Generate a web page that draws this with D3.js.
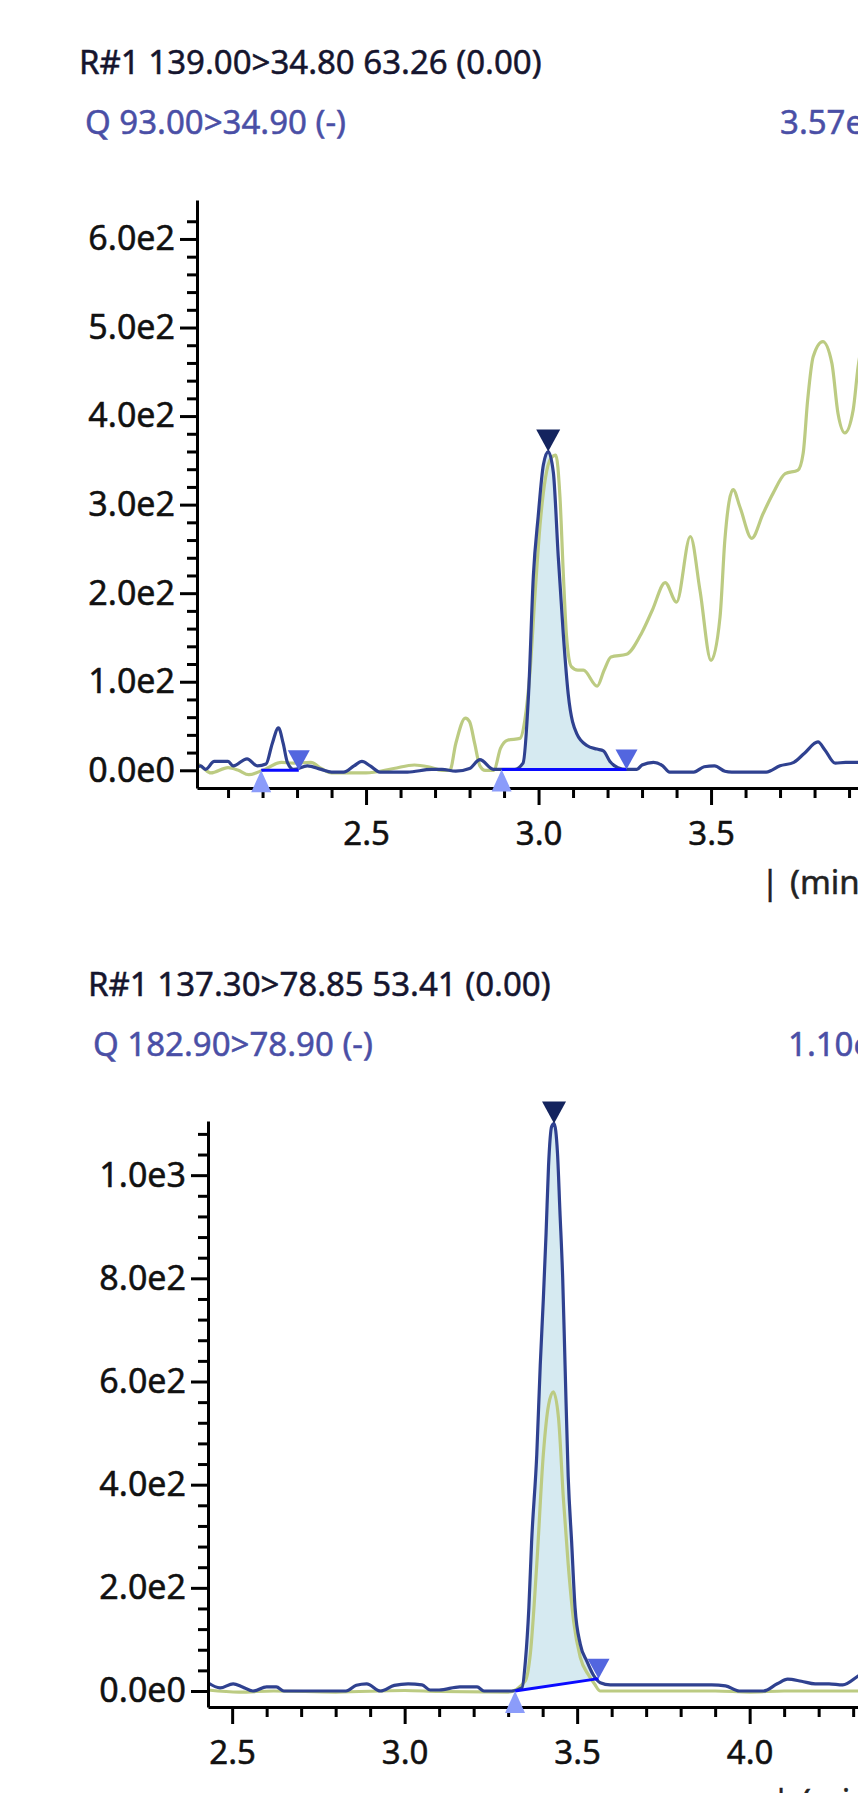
<!DOCTYPE html>
<html>
<head>
<meta charset="utf-8">
<script src="https://cdn.jsdelivr.net/npm/d3@7"></script>
<style>
html,body{margin:0;padding:0;background:#ffffff;overflow:hidden}
svg{display:block}
</style>
</head>
<body>
<svg id="chart" width="858" height="1793"></svg>
<script>
// ---------------- DATA ----------------
// Panel 1 header texts
const topTitle = "R#1 139.00>34.80 63.26 (0.00)";
const topSubtitle = "Q 93.00>34.90 (-)";
const topIntensity = "3.57e2";
// Panel 2 header texts
const botTitle = "R#1 137.30>78.85 53.41 (0.00)";
const botSubtitle = "Q 182.90>78.90 (-)";
const botIntensity = "1.10e3";
const axisUnit = "(min)";

// tick values
const topXTicks = [2.5, 3.0, 3.5];
const topYTicks = [0, 100, 200, 300, 400, 500, 600];
const botXTicks = [2.5, 3.0, 3.5, 4.0];
const botYTicks = [0, 200, 400, 600, 800, 1000];

// Panel 1 quantifier trace [time (min), intensity]
const topQuant = [[2.01,3],[2.02,5],[2.035,1],[2.06,10],[2.10,10],[2.115,5],[2.155,13],[2.185,5],[2.21,7],[2.228,30],[2.246,48],[2.26,30],[2.272,9],[2.29,1],[2.33,5],[2.37,1],[2.40,-2],[2.435,-2],[2.465,5],[2.488,10],[2.512,5],[2.54,-2],[2.62,-2],[2.69,1],[2.72,1],[2.76,-1],[2.80,2],[2.83,12],[2.87,1],[2.893,1],[2.93,1],[2.955,8],[2.971,86],[2.985,220],[2.999,287],[3.014,345],[3.028,360],[3.043,336],[3.057,242],[3.072,152],[3.086,86],[3.111,41],[3.14,28],[3.169,24],[3.188,22],[3.207,10],[3.23,3],[3.255,1],[3.285,1],[3.30,6],[3.333,9],[3.36,5],[3.38,-2],[3.45,-2],[3.48,4],[3.51,5],[3.54,-1],[3.56,-2],[3.66,-2],[3.70,5],[3.74,9],[3.77,19],[3.81,32],[3.83,23],[3.86,8],[3.89,9],[3.95,9]];
// Panel 1 qualifier trace
const topQual = [[2.01,8],[2.03,2],[2.05,-3],[2.10,3],[2.13,0],[2.16,-5],[2.20,0],[2.255,9],[2.29,8],[2.34,9],[2.37,2],[2.40,-3],[2.50,-3],[2.58,2],[2.64,6],[2.68,4],[2.72,0],[2.743,0],[2.76,30],[2.788,59],[2.80,55],[2.815,30],[2.83,5],[2.845,0],[2.87,0],[2.89,25],[2.91,34],[2.946,36],[2.96,56],[2.975,110],[2.99,200],[3.005,280],[3.02,330],[3.035,352],[3.05,356],[3.062,309],[3.072,220],[3.081,152],[3.095,117],[3.114,113],[3.13,113],[3.17,95],[3.19,113],[3.21,128],[3.255,131],[3.30,156],[3.33,181],[3.367,212],[3.40,190],[3.44,264],[3.468,203],[3.50,124],[3.526,173],[3.54,260],[3.564,317],[3.584,297],[3.618,262],[3.651,290],[3.68,313],[3.715,335],[3.752,339],[3.767,358],[3.78,418],[3.796,467],[3.824,484],[3.85,460],[3.868,403],[3.888,381],[3.912,407],[3.926,455],[3.95,500]];
// Panel 1 peak integration marks
const topPeakStart = [[2.196,0],[2.893,1]];
const topPeakEnd = [[2.305,0],[3.255,1]];
const topPeakApex = [null,[3.028,360]];

// Panel 2 quantifier trace
const botQuant = [[2.43,16],[2.465,6],[2.503,14],[2.53,8],[2.56,0],[2.60,8],[2.628,8],[2.65,0],[2.70,0],[2.83,0],[2.86,11],[2.89,14],[2.93,0],[2.97,11],[3.01,14],[3.05,12],[3.074,2],[3.10,2],[3.16,8],[3.21,8],[3.23,0],[3.31,0],[3.34,6],[3.35,58],[3.36,161],[3.368,289],[3.383,459],[3.393,631],[3.402,760],[3.410,888],[3.417,1017],[3.426,1094],[3.433,1100],[3.443,1043],[3.45,931],[3.458,802],[3.465,631],[3.474,416],[3.484,289],[3.494,161],[3.509,91],[3.528,58],[3.547,31],[3.567,16],[3.596,12],[3.654,12],[3.75,12],[3.89,12],[3.93,10],[3.97,0],[4.04,0],[4.08,14],[4.11,23],[4.15,19],[4.19,14],[4.23,14],[4.27,12],[4.32,31],[4.36,40]];
// Panel 2 qualifier trace
const botQual = [[2.43,2],[2.52,-2],[2.62,0],[2.80,-2],[3.00,1],[3.10,-1],[3.30,-2],[3.35,20],[3.364,70],[3.383,246],[3.402,459],[3.417,554],[3.431,580],[3.446,529],[3.46,374],[3.474,246],[3.49,134],[3.509,65],[3.533,31],[3.55,14],[3.567,0],[3.70,0],[3.90,0],[4.00,-2],[4.10,0],[4.36,0]];
// Panel 2 peak integration marks
const botPeakStart = [[3.32,0]];
const botPeakEnd = [[3.562,24]];
const botPeakApex = [[3.433,1100]];

// ---------------- DRAWING ----------------
const FONT = "'Noto Sans','Open Sans',sans-serif";
const svg = d3.select("#chart");

function interp(series, t) {
  for (let i = 0; i < series.length - 1; i++) {
    const a = series[i], b = series[i + 1];
    if (t >= a[0] && t <= b[0]) {
      const f = (t - a[0]) / (b[0] - a[0]);
      return a[1] + f * (b[1] - a[1]);
    }
  }
  return series[series.length - 1][1];
}

function yFmt(v) {
  return d3.format(".1e")(v).replace("e+", "e");
}

function addText(g, xPos, yPos, txt, color) {
  return g.append("text").attr("x", xPos).attr("y", yPos)
    .attr("font-family", FONT).attr("font-size", 33).attr("fill", color)
    .attr("stroke", color).attr("stroke-width", 0.5)
    .text(txt);
}

function drawPanel(cfg) {
  const g = svg.append("g");
  const x = d3.scaleLinear().domain(cfg.xDomain).range(cfg.xRange);
  const y = d3.scaleLinear().domain(cfg.yDomain).range(cfg.yRange);

  // header text
  addText(g, cfg.titleX, cfg.titleY, cfg.title, "#15152e");
  addText(g, cfg.subX, cfg.subY, cfg.subtitle, "#4a4fa6");
  addText(g, cfg.intX, cfg.subY, cfg.intensity, "#4a4fa6");

  // peak fills
  cfg.starts.forEach((s, i) => {
    const e = cfg.ends[i];
    if (!cfg.apexes[i]) return;
    const base = t => s[1] + (t - s[0]) / (e[0] - s[0]) * (e[1] - s[1]);
    const pts = [[s[0], interp(cfg.quant, s[0])]]
      .concat(cfg.quant.filter(d => d[0] > s[0] && d[0] < e[0]))
      .concat([[e[0], interp(cfg.quant, e[0])]]);
    const area = d3.area().curve(d3.curveMonotoneX)
      .x(d => x(d[0])).y0(d => y(base(d[0]))).y1(d => y(Math.max(d[1], base(d[0]))));
    g.append("path").datum(pts).attr("d", area).attr("fill", "#d6eaf1");
  });

  const line = d3.line().curve(d3.curveMonotoneX).x(d => x(d[0])).y(d => y(d[1]));
  g.append("path").datum(cfg.qual).attr("d", line)
    .attr("fill", "none").attr("stroke", "#bccb82").attr("stroke-width", 3.2).attr("stroke-linejoin", "round");
  g.append("path").datum(cfg.quant).attr("d", line)
    .attr("fill", "none").attr("stroke", "#2f4190").attr("stroke-width", 3.2).attr("stroke-linejoin", "round");

  // baselines
  cfg.starts.forEach((s, i) => {
    const e = cfg.ends[i];
    g.append("line").attr("x1", x(s[0])).attr("y1", y(s[1])).attr("x2", x(e[0])).attr("y2", y(e[1]))
      .attr("stroke", "#0a0aff").attr("stroke-width", 3);
  });

  // axes
  const xAxisY = cfg.yRange[0];
  const yAxisX = cfg.xRange[0];
  const styleAxis = (sel, fs) => {
    sel.selectAll("path.domain").attr("stroke", "#000").attr("stroke-width", 3);
    sel.selectAll(".tick line").attr("stroke", "#000").attr("stroke-width", 3);
    sel.selectAll(".tick text").attr("font-family", FONT).attr("font-size", fs).attr("fill", "#111")
      .attr("stroke", "#111").attr("stroke-width", 0.5);
  };
  const xMinor = d3.range(Math.ceil(cfg.xDomain[0] * 10), Math.floor(cfg.xDomain[1] * 10) + 1)
    .map(d => d / 10).filter(d => Math.abs(d * 2 - Math.round(d * 2)) > 1e-6);
  g.append("g").attr("transform", `translate(0,${xAxisY})`)
    .call(d3.axisBottom(x).tickValues(xMinor).tickSize(10).tickFormat(""))
    .call(sel => sel.select(".domain").remove()).call(sel => styleAxis(sel, 33));
  g.append("g").attr("transform", `translate(0,${xAxisY})`)
    .call(d3.axisBottom(x).tickValues(cfg.xTicks).tickSize(17).tickSizeOuter(0).tickPadding(17).tickFormat(d3.format(".1f")))
    .call(sel => styleAxis(sel, 33));

  const yMinor = d3.range(cfg.yMinorStep, cfg.yMinorMax + 1, cfg.yMinorStep)
    .filter(d => cfg.yTicks.indexOf(d) < 0);
  g.append("g").attr("transform", `translate(${yAxisX},0)`)
    .call(d3.axisLeft(y).tickValues(yMinor).tickSize(10).tickFormat(""))
    .call(sel => sel.select(".domain").remove()).call(sel => styleAxis(sel, 34));
  g.append("g").attr("transform", `translate(${yAxisX},0)`)
    .call(d3.axisLeft(y).tickValues(cfg.yTicks).tickSize(17).tickSizeOuter(0).tickPadding(5).tickFormat(yFmt))
    .call(sel => styleAxis(sel, 34));

  // markers
  cfg.starts.forEach(s => {
    const px = x(s[0]), py = y(s[1]);
    g.append("path").attr("d", `M${px},${py} L${px - 10},${py + 22} L${px + 10},${py + 22} Z`)
      .attr("fill", "#8b9cfa");
  });
  cfg.ends.forEach(e => {
    const px = x(e[0]), py = y(e[1]);
    g.append("path").attr("d", `M${px},${py} L${px - 11},${py - 20} L${px + 11},${py - 20} Z`)
      .attr("fill", "#5366df");
  });
  cfg.apexes.forEach(a => {
    if (!a) return;
    const px = x(a[0]), py = y(a[1]);
    g.append("path").attr("d", `M${px},${py} L${px - 12},${py - 22} L${px + 12},${py - 22} Z`)
      .attr("fill", "#14245e");
  });

  // unit label
  addText(g, cfg.unitX, xAxisY + 106, "|", "#222");
  addText(g, cfg.unitX + 29, xAxisY + 106, axisUnit, "#222");
}

drawPanel({
  title: topTitle, subtitle: topSubtitle, intensity: topIntensity,
  titleX: 79, titleY: 74, subX: 85, subY: 134, intX: 780,
  xDomain: [2.01, 4.0], xRange: [197, 883.55],
  yDomain: [-20, 644], yRange: [788, 200],
  xTicks: topXTicks, yTicks: topYTicks, yMinorStep: 20, yMinorMax: 620,
  quant: topQuant, qual: topQual,
  starts: topPeakStart, ends: topPeakEnd, apexes: topPeakApex,
  unitX: 761
});

drawPanel({
  title: botTitle, subtitle: botSubtitle, intensity: botIntensity,
  titleX: 88, titleY: 996, subX: 93, subY: 1056, intX: 788,
  xDomain: [2.43, 4.4], xRange: [208, 887.65],
  yDomain: [-31, 1105], yRange: [1707, 1121],
  xTicks: botXTicks, yTicks: botYTicks, yMinorStep: 40, yMinorMax: 1080,
  quant: botQuant, qual: botQual,
  starts: botPeakStart, ends: botPeakEnd, apexes: botPeakApex,
  unitX: 772
});
</script>
</body>
</html>
